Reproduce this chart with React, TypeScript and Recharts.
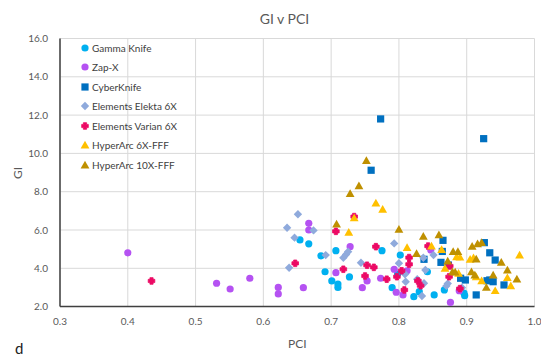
import React from "react";
import { ScatterChart, Scatter, XAxis, YAxis, CartesianGrid } from "recharts";

// ---------- data ----------
const xTicks = [0.3, 0.4, 0.5, 0.6, 0.7, 0.8, 0.9, 1.0];
const yTicks = [2, 4, 6, 8, 10, 12, 14, 16];

const seriesNames = [
  "Gamma Knife",
  "Zap-X",
  "CyberKnife",
  "Elements Elekta 6X",
  "Elements Varian 6X",
  "HyperArc 6X-FFF",
  "HyperArc 10X-FFF",
];

const gammaPCI = [0.654, 0.667, 0.685, 0.707, 0.691, 0.701, 0.71, 0.71, 0.727, 0.775, 0.802, 0.798, 0.79, 0.842, 0.83, 0.822, 0.852, 0.867, 0.897, 0.896];
const gammaGI = [5.48, 5.28, 4.65, 4.92, 3.82, 3.34, 3.18, 3.0, 3.55, 4.92, 4.69, 3.7, 2.99, 3.82, 2.78, 2.52, 2.61, 2.87, 2.57, 2.7];

const zapPCI = [0.4, 0.531, 0.551, 0.58, 0.622, 0.622, 0.667, 0.667, 0.659, 0.707, 0.728, 0.753, 0.746, 0.773, 0.793, 0.812, 0.796, 0.806, 0.847, 0.889, 0.876];
const zapGI = [4.81, 3.22, 2.92, 3.48, 3.0, 2.66, 6.35, 6.0, 2.99, 3.77, 5.13, 3.34, 2.99, 3.48, 3.95, 3.87, 2.75, 2.61, 4.96, 2.83, 2.22];

const ckPCI = [0.773, 0.759, 0.925, 0.865, 0.864, 0.837, 0.862, 0.873, 0.891, 0.898, 0.914, 0.926, 0.934, 0.942, 0.955, 0.934, 0.939, 0.93];
const ckGI = [11.8, 9.12, 10.77, 5.46, 4.88, 4.47, 4.31, 4.17, 3.48, 3.39, 2.61, 5.34, 4.81, 4.43, 3.13, 3.39, 3.3, 3.35];

const elektaPCI = [0.651, 0.635, 0.674, 0.646, 0.692, 0.638, 0.718, 0.722, 0.725, 0.744, 0.793, 0.8, 0.809, 0.81, 0.827, 0.837, 0.834, 0.836, 0.851, 0.87, 0.872, 0.893, 0.839];
const elektaGI = [6.82, 6.12, 5.98, 5.6, 4.69, 4.03, 4.55, 4.72, 4.87, 4.29, 5.3, 4.26, 3.69, 3.3, 3.43, 3.22, 2.55, 4.55, 4.69, 3.08, 3.2, 2.99, 3.91];

const varianPCI = [0.435, 0.647, 0.707, 0.734, 0.718, 0.766, 0.753, 0.763, 0.75, 0.782, 0.804, 0.815, 0.815, 0.797, 0.808, 0.828, 0.832, 0.843, 0.875, 0.874, 0.89];
const varianGI = [3.34, 4.26, 5.93, 6.7, 3.95, 5.13, 4.16, 4.05, 3.6, 3.43, 3.87, 4.56, 4.21, 3.56, 2.87, 3.34, 3.09, 5.16, 4.12, 3.56, 2.94];

const ha6PCI = [0.766, 0.776, 0.734, 0.726, 0.812, 0.848, 0.863, 0.885, 0.89, 0.868, 0.888, 0.905, 0.91, 0.914, 0.978, 0.96, 0.965, 0.942, 0.922];
const ha6GI = [7.41, 7.08, 6.63, 5.88, 5.08, 5.16, 4.98, 4.6, 4.58, 4.0, 3.74, 4.47, 4.55, 3.55, 4.69, 3.51, 3.08, 2.83, 3.35];

const ha10PCI = [0.752, 0.741, 0.728, 0.708, 0.8, 0.836, 0.859, 0.826, 0.88, 0.887, 0.908, 0.916, 0.922, 0.872, 0.879, 0.883, 0.907, 0.912, 0.951, 0.96, 0.974, 0.939, 0.929, 0.914];
const ha10GI = [9.63, 8.31, 7.9, 6.31, 6.04, 5.67, 5.75, 4.77, 4.87, 4.87, 5.15, 5.28, 5.34, 4.38, 3.82, 3.8, 3.82, 3.65, 4.31, 3.91, 3.44, 3.65, 3.0, 4.48];

// ---------- styling ----------
const colors = ["#00B0F0", "#B552F2", "#0070C0", "#8FAADC", "#EC0A64", "#FFC000", "#BF9000"];
const markers = ["circle", "circle", "square", "diamond", "plus", "triangle", "triangle"];
const pciSets = [gammaPCI, zapPCI, ckPCI, elektaPCI, varianPCI, ha6PCI, ha10PCI];
const giSets = [gammaGI, zapGI, ckGI, elektaGI, varianGI, ha6GI, ha10GI];

const FONT = 'Lato, "Open Sans", sans-serif';
const W = 541;
const H = 358;

function Marker({ kind, cx, cy, color }: { kind: string; cx: number; cy: number; color: string }) {
  if (kind === "circle") return <circle cx={cx} cy={cy} r={3.6} fill={color} />;
  if (kind === "square") return <rect x={cx - 3.6} y={cy - 3.6} width={7.2} height={7.2} fill={color} />;
  if (kind === "diamond")
    return <polygon points={`${cx},${cy - 4.2} ${cx + 4.2},${cy} ${cx},${cy + 4.2} ${cx - 4.2},${cy}`} fill={color} />;
  if (kind === "plus") {
    const a = 1.6;
    const b = 3.3;
    return (
      <polygon
        points={`${cx - a},${cy - b} ${cx + a},${cy - b} ${cx + a},${cy - a} ${cx + b},${cy - a} ${cx + b},${cy + a} ${cx + a},${cy + a} ${cx + a},${cy + b} ${cx - a},${cy + b} ${cx - a},${cy + a} ${cx - b},${cy + a} ${cx - b},${cy - a} ${cx - a},${cy - a}`}
        fill={color}
        stroke={color}
        strokeWidth={0.8}
        strokeLinejoin="round"
      />
    );
  }
  // triangle
  return <polygon points={`${cx},${cy - 4.3} ${cx + 4.4},${cy + 3.4} ${cx - 4.4},${cy + 3.4}`} fill={color} />;
}

export default function App() {
  const series = seriesNames.map((name, i) => ({
    name,
    color: colors[i],
    kind: markers[i],
    data: pciSets[i].map((x, j) => ({ x, y: giSets[i][j] })),
  }));

  return (
    <div style={{ position: "fixed", left: 0, top: 0, width: W, height: H, background: "#fff", fontFamily: FONT }}>
      <ScatterChart width={W} height={H} margin={{ top: 38.5, right: 6.5, left: 0, bottom: 21.4 }}>
        <CartesianGrid stroke="#D9D9D9" strokeWidth={1} />
        <XAxis
          type="number"
          dataKey="x"
          domain={[0.3, 1.0]}
          ticks={xTicks}
          tickFormatter={(v: number) => v.toFixed(1)}
          height={30}
          tickLine={false}
          tickSize={6}
          tickMargin={5}
          axisLine={{ stroke: "#404040", strokeWidth: 1.5 }}
          tick={{ fill: "#595959", fontSize: 10, fontFamily: FONT }}
          allowDataOverflow
        />
        <YAxis
          type="number"
          dataKey="y"
          domain={[2, 16]}
          ticks={yTicks}
          tickFormatter={(v: number) => v.toFixed(1)}
          width={60}
          tickLine={false}
          tickSize={6}
          tickMargin={6}
          axisLine={{ stroke: "#404040", strokeWidth: 1.5 }}
          tick={{ fill: "#595959", fontSize: 10, fontFamily: FONT }}
          allowDataOverflow
        />
        {series.map((s) => (
          <Scatter
            key={s.name}
            name={s.name}
            data={s.data}
            fill={s.color}
            isAnimationActive={false}
            shape={(p: any) => <Marker kind={s.kind} cx={p.cx} cy={p.cy} color={s.color} />}
          />
        ))}
      </ScatterChart>

      {/* title */}
      <div
        style={{
          position: "absolute",
          left: 0,
          width: W,
          top: 10,
          textAlign: "center",
          paddingLeft: 28,
          boxSizing: "border-box",
          fontSize: 14,
          color: "#595959",
          lineHeight: "18px",
        }}
      >
        GI v PCI
      </div>

      {/* axis titles */}
      <div
        style={{
          position: "absolute",
          left: 60,
          width: 474.5,
          top: 336,
          textAlign: "center",
          fontSize: 12,
          color: "#595959",
          lineHeight: "16px",
        }}
      >
        PCI
      </div>
      <div
        style={{
          position: "absolute",
          left: 18,
          top: 172.5,
          transform: "translate(-50%, -50%) rotate(-90deg)",
          fontSize: 12,
          color: "#595959",
          lineHeight: "16px",
          whiteSpace: "nowrap",
        }}
      >
        GI
      </div>

      {/* legend */}
      <div style={{ position: "absolute", left: 78, top: 38, pointerEvents: "none" }}>
        {series.map((s, i) => (
          <div
            key={s.name}
            style={{
              position: "absolute",
              left: 0,
              top: 1.5 + i * 19.5,
              height: 16,
              display: "flex",
              alignItems: "center",
              whiteSpace: "nowrap",
            }}
          >
            <svg width={14} height={16} style={{ display: "block" }}>
              <Marker kind={s.kind} cx={7} cy={8} color={s.color} />
            </svg>
            <span style={{ fontSize: 10, color: "#404040", marginLeft: 0 }}>{s.name}</span>
          </div>
        ))}
      </div>

      {/* panel letter */}
      <div
        style={{
          position: "absolute",
          left: 15,
          top: 340,
          fontSize: 15,
          color: "#222",
          lineHeight: "17px",
        }}
      >
        d
      </div>
    </div>
  );
}
